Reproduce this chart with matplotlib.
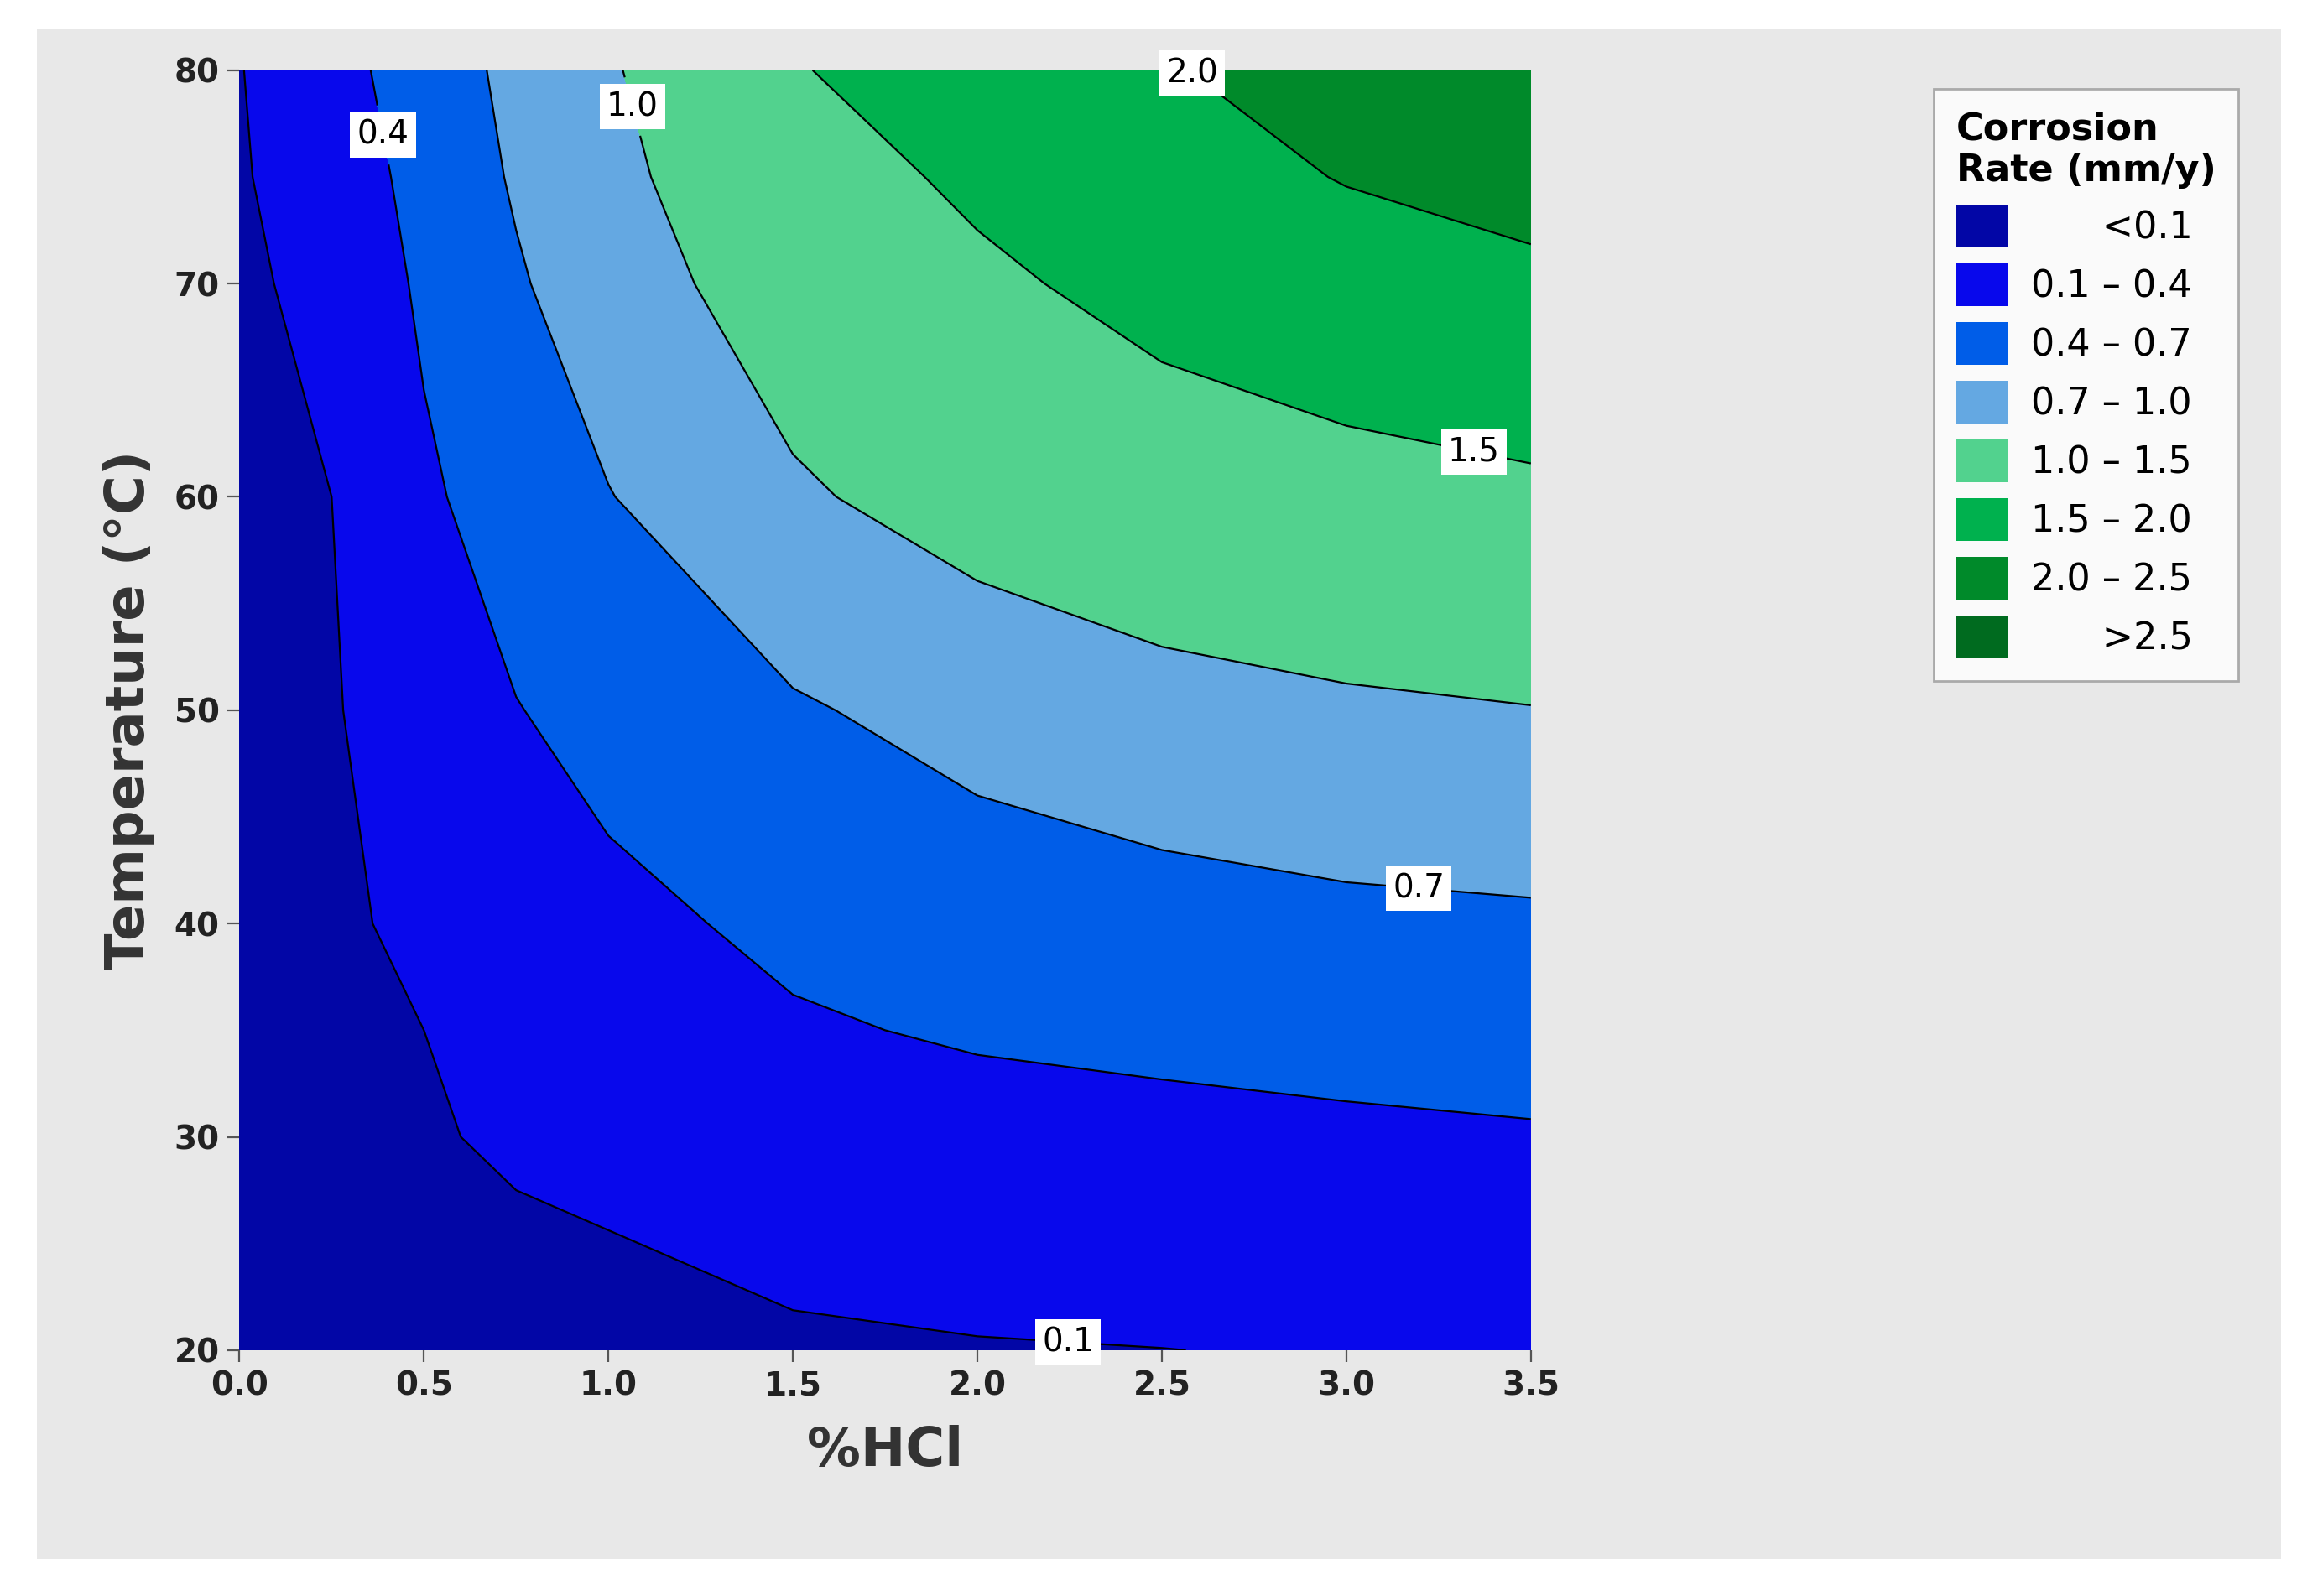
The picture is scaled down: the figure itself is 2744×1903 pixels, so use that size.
import numpy as np
import matplotlib.pyplot as plt
from matplotlib.patches import Patch, Rectangle

hcl = [0.0, 0.25, 0.5, 0.75, 1.0, 1.5, 2.0, 2.5, 3.0, 3.5]
temp = [20, 25, 30, 35, 40, 50, 60, 70, 75, 80]
# corrosion rate (mm/y), one row per temperature
rate = [
    [0.01, 0.02, 0.03, 0.04, 0.05, 0.07, 0.085, 0.097, 0.12, 0.15],
    [0.01, 0.03, 0.05, 0.07, 0.09, 0.15, 0.20, 0.24, 0.27, 0.30],
    [0.02, 0.04, 0.08, 0.13, 0.17, 0.25, 0.30, 0.33, 0.36, 0.38],
    [0.02, 0.05, 0.10, 0.20, 0.27, 0.37, 0.43, 0.46, 0.48, 0.50],
    [0.03, 0.06, 0.15, 0.25, 0.33, 0.46, 0.55, 0.60, 0.64, 0.66],
    [0.04, 0.08, 0.24, 0.39, 0.50, 0.67, 0.80, 0.89, 0.95, 0.99],
    [0.05, 0.10, 0.35, 0.55, 0.69, 0.96, 1.13, 1.26, 1.35, 1.42],
    [0.07, 0.15, 0.45, 0.67, 0.86, 1.16, 1.42, 1.64, 1.80, 1.93],
    [0.08, 0.22, 0.50, 0.73, 0.91, 1.30, 1.58, 1.82, 2.02, 2.12],
    [0.09, 0.29, 0.55, 0.77, 0.96, 1.47, 1.75, 1.98, 2.12, 2.22],
]
levels = [-1, 0.1, 0.4, 0.7, 1.0, 1.5, 2.0, 2.5, 10]
colors = ["#0206A6", "#0808EC", "#005DE8", "#64A8E2", "#52D28E", "#00B14E", "#008A2A", "#006B1F"]
labels = ["      <0.1", "0.1 \u2013 0.4", "0.4 \u2013 0.7", "0.7 \u2013 1.0",
          "1.0 \u2013 1.5", "1.5 \u2013 2.0", "2.0 \u2013 2.5", "      >2.5"]
line_levels = [0.1, 0.4, 0.7, 1.0, 1.5, 2.0]
label_pos = [(2.25, 21.5), (0.4, 77.0), (3.2, 42.5), (1.0, 78.0), (3.35, 62.5), (2.5, 78.0)]

fig = plt.figure(figsize=(13.72, 9.515), dpi=200)
fig.patches.append(Rectangle((0.016, 0.023), 0.975, 0.959, transform=fig.transFigure,
                             facecolor="#E8E8E8", edgecolor="none", zorder=-10))
ax = fig.add_axes([0.104, 0.154, 0.561, 0.802])

X, Y = np.meshgrid(hcl, temp)
Z = np.array(rate)
ax.contourf(X, Y, Z, levels=levels, colors=colors)
cs = ax.contour(X, Y, Z, levels=line_levels, colors="black", linewidths=0.8)
cl = ax.clabel(cs, fmt="%.1f", fontsize=14, inline=True, manual=label_pos)
for t in cl:
    t.set_rotation(0)
    t.set_bbox(dict(facecolor="white", edgecolor="none", pad=3))
    t.set_color("black")
    t.set_clip_on(False)

ax.set_xlim(0, 3.5)
ax.set_ylim(20, 80)
ax.set_xticks(np.arange(0, 3.51, 0.5))
ax.set_xticklabels([f"{v:.1f}" for v in np.arange(0, 3.51, 0.5)])
ax.set_yticks(range(20, 81, 10))
for lab in ax.get_xticklabels() + ax.get_yticklabels():
    lab.set_fontweight("bold")
    lab.set_fontsize(14)
    lab.set_color("#222222")
ax.tick_params(length=5, color="#555555")
for s in ax.spines.values():
    s.set_visible(False)
ax.set_xlabel("%HCl", fontsize=23, fontweight="bold", color="#333333", labelpad=10)
ax.set_ylabel("Temperature (\u00b0C)", fontsize=23, fontweight="bold", color="#333333", labelpad=8)

handles = [Patch(facecolor=c, edgecolor="none") for c in colors]
leg = fig.legend(handles, labels, loc="upper left", bbox_to_anchor=(0.832, 0.956),
                 title="Corrosion\nRate (mm/y)", fontsize=16, title_fontsize=16,
                 frameon=True, fancybox=False, edgecolor="#999999",
                 handlelength=1.4, handleheight=1.4, labelspacing=0.42,
                 borderpad=0.6, handletextpad=0.6)
leg.get_title().set_fontweight("bold")
leg._legend_box.align = "left"

fig.savefig("out.png", dpi=200)
